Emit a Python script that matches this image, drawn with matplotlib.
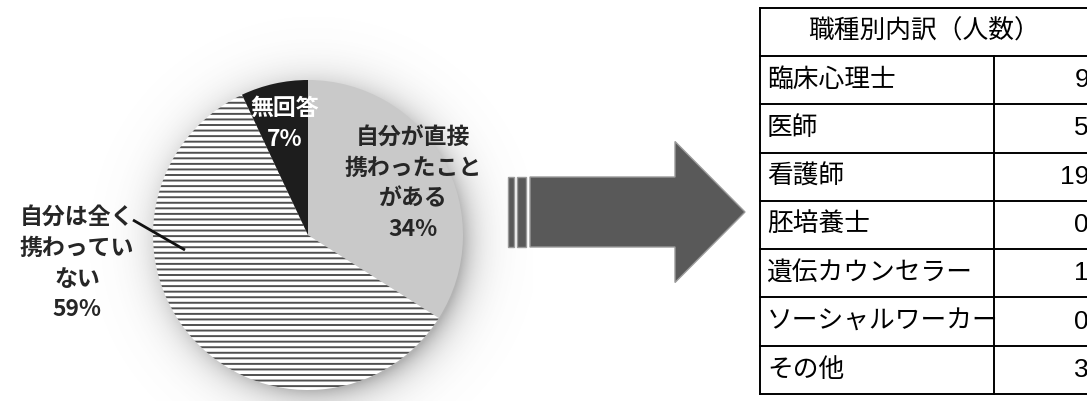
import numpy as np
import matplotlib
matplotlib.use("Agg")
import matplotlib.pyplot as plt
from matplotlib.patches import FancyArrow, Rectangle

plt.rcParams['font.family'] = ['Noto Sans CJK JP', 'DejaVu Sans']
plt.rcParams['hatch.linewidth'] = 1.4

# Survey answers (pie)
answer_labels = ["自分が直接\n携わったこと\nがある", "自分は全く\n携わってい\nない", "無回答"]
answer_shares = [34, 59, 7]

# Breakdown by occupation (table)
table_title = "職種別内訳（人数）"
occupations = ["臨床心理士", "医師", "看護師", "胚培養士", "遺伝カウンセラー", "ソーシャルワーカー", "その他"]
counts = [9, 5, 19, 0, 1, 0, 3]

W, H = 1087, 401
fig = plt.figure(figsize=(W / 100, H / 100), dpi=100)
ax = fig.add_axes([0, 0, 1, 1])

# ---- pie ----
cx, cy, r = 308, 166, 155

# soft drop glow behind the pie
gx = np.linspace(cx - r - 70, cx + r + 70, 520)
gy = np.linspace(cy - r - 70, cy + r + 70, 520)
X, Y = np.meshgrid(gx, gy)
d = np.hypot(X - (cx + 6), Y - (cy - 6))
alpha = np.where(d > r - 8, 0.45 * np.exp(-np.clip(d - r + 6, 0, None) / 16.0), 0.45)
glow = np.zeros(X.shape + (4,))
glow[..., :3] = 0.35
glow[..., 3] = alpha
ax.imshow(glow, extent=(gx[0], gx[-1], gy[0], gy[-1]), origin='lower', zorder=0, interpolation='bilinear')

wedges, _ = ax.pie(answer_shares, center=(cx, cy), radius=r, startangle=90, counterclock=False,
                   colors=['#c9c9c9', 'white', '#1d1d1d'], frame=True,
                   wedgeprops=dict(linewidth=0))
wedges[1].set_hatch('---')
wedges[1].set_edgecolor('#505050')
wedges[1].set_linewidth(0)
for w in wedges:
    w.set_zorder(2)

txt_kw = dict(ha='center', va='center', fontsize=16.5, fontweight='bold', zorder=5)
dark = '#262626'

def draw_label(x, y_top, lines, color, step=31):
    for i, line in enumerate(lines):
        ax.text(x, H - (y_top + i * step), line, color=color, **txt_kw)

draw_label(413, 137, answer_labels[0].split("\n") + [f"{answer_shares[0]}%"], dark, step=31)
draw_label(77, 217, answer_labels[1].split("\n") + [f"{answer_shares[1]}%"], dark, step=31)
draw_label(285, 108, answer_labels[2].split("\n") + [f"{answer_shares[2]}%"], 'white', step=32)

# leader line for the left label
ax.plot([133, 185], [H - 220, H - 250], color='#111111', lw=2.0, solid_capstyle='butt', zorder=6)

# ---- arrow ----
arrow_fc, arrow_ec = '#595959', '#9a9a9a'
ax.add_patch(FancyArrow(530, 189, 215, 0, width=70, head_width=141, head_length=70,
                        length_includes_head=True, fc=arrow_fc, ec=arrow_ec, lw=1.0, zorder=3))
ax.add_patch(Rectangle((508, 154), 6, 70, fc=arrow_fc, ec=arrow_ec, lw=1.0, zorder=3))
ax.add_patch(Rectangle((517, 154), 9, 70, fc=arrow_fc, ec=arrow_ec, lw=1.0, zorder=3))

# ---- table ----
tx0, tx1, tdiv = 760, 1095, 994
ty_top, head_h = 8, 48
row_h = (394 - ty_top - head_h) / len(occupations)
lw = 1.4
line_kw = dict(color='black', lw=lw, solid_capstyle='projecting', zorder=4)

ax.plot([tx0, tx1], [H - ty_top, H - ty_top], **line_kw)
ax.plot([tx0, tx0], [H - ty_top, H - 394], **line_kw)
ax.plot([tdiv, tdiv], [H - ty_top - head_h, H - 394], **line_kw)
ax.plot([tx0, tx1], [H - ty_top - head_h, H - ty_top - head_h], **line_kw)
ax.text(924, H - (ty_top + head_h / 2), table_title, ha='center', va='center',
        fontsize=18.5, color='black', zorder=5)
for i, (name, n) in enumerate(zip(occupations, counts)):
    top = ty_top + head_h + i * row_h
    bot = top + row_h
    ax.plot([tx0, tx1], [H - bot, H - bot], **line_kw)
    yc = H - (top + row_h / 2)
    ax.text(767, yc, name, ha='left', va='center', fontsize=18.5, color='black', zorder=5)
    ax.text(1089, yc, str(n), ha='right', va='center', fontsize=19, color='black', zorder=5,
            family=['Liberation Sans', 'DejaVu Sans'])

ax.set_xlim(0, W)
ax.set_ylim(0, H)
ax.axis('off')
fig.savefig("out.png", dpi=100, facecolor='white')
